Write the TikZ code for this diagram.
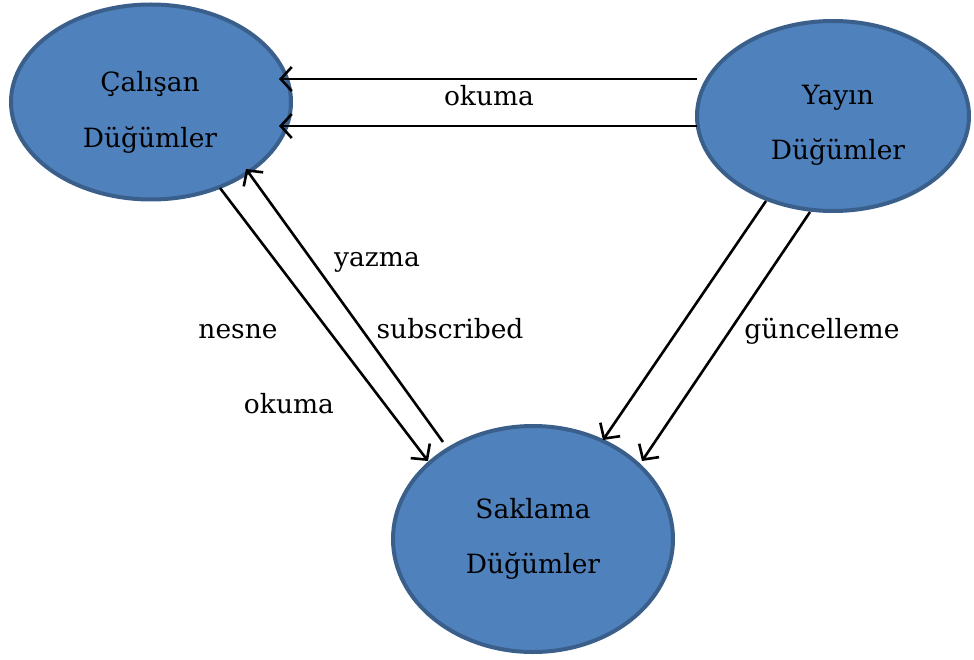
\documentclass[tikz,border=0pt]{standalone}
\usepackage{fontspec}
\setmainfont{DejaVu Serif}
\usetikzlibrary{shapes.geometric,arrows.meta}
\definecolor{nodefill}{HTML}{4F81BD}
\definecolor{nodeedge}{HTML}{3A5F8B}
\tikzset{
  blob/.style={ellipse, fill=nodefill, draw=nodeedge, line width=4pt, inner sep=0pt},
  word/.style={font=\fontsize{26.5}{30}\selectfont, inner sep=0pt, anchor=base},
  flow/.style={line width=2.6pt, -{Straight Barb[length=11pt,width=24pt,line width=2.6pt]}},
}
\begin{document}
\begin{tikzpicture}[x=1pt,y=-1pt]
\useasboundingbox (0,0) rectangle (974,660);

% three process groups
\node[blob, minimum width=280pt, minimum height=195pt] (cal) at (151,102) {};
\node[blob, minimum width=272pt, minimum height=190pt] (yay) at (833,116) {};
\node[blob, minimum width=280pt, minimum height=226pt] (sak) at (533,539) {};

\node[word] (calA) at (150,92) {Çalışan};
\node[word] (calB) at (150,148) {Düğümler};
\node[word] (yayA) at (838,105) {Yayın};
\node[word] (yayB) at (838,160) {Düğümler};
\node[word] (sakA) at (533,518) {Saklama};
\node[word] (sakB) at (533,573) {Düğümler};

% connector end points on the ellipse rims
\coordinate (y1) at (697,79);
\coordinate (c1) at (279,79);
\coordinate (y2) at (697,126);
\coordinate (c2) at (279,126);
\coordinate (c3) at (220,188);
\coordinate (s3) at (428,461);
\coordinate (s4) at (443,442);
\coordinate (c4) at (246,169);
\coordinate (y5) at (766,201);
\coordinate (s5) at (603,440);
\coordinate (y6) at (810,212);
\coordinate (s6) at (642,461);

\draw[flow] (y1) -- (c1);
\draw[flow] (y2) -- (c2);
\draw[flow] (c3) -- (s3);
\draw[flow] (s4) -- (c4);
\draw[flow] (y5) -- (s5);
\draw[flow] (y6) -- (s6);

% edge labels
\node[word] (l1) at (489,106) {okuma};
\node[word] (l2) at (377,267) {yazma};
\node[word] (l3) at (450,338) {subscribed};
\node[word] (l4) at (238,338) {nesne};
\node[word] (l5) at (289,413) {okuma};
\node[word] (l6) at (822,338) {güncelleme};
\end{tikzpicture}
\end{document}
